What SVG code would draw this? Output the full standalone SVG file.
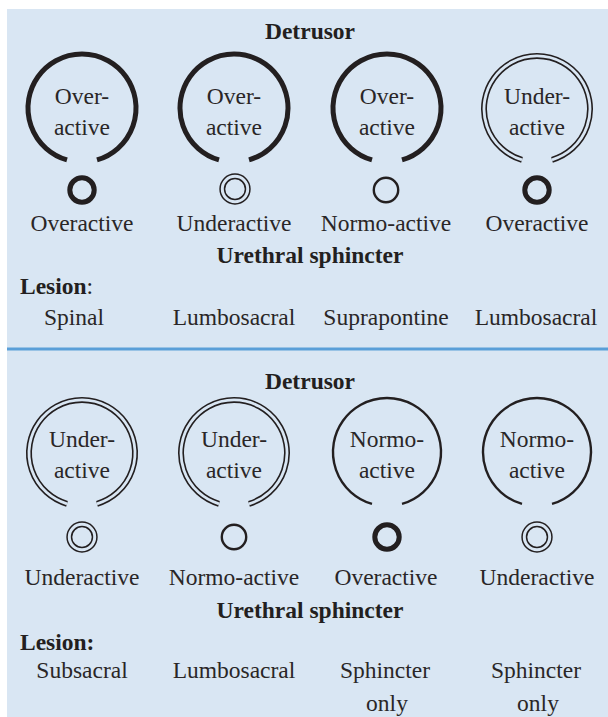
<svg xmlns="http://www.w3.org/2000/svg" xmlns:xlink="http://www.w3.org/1999/xlink" width="608" height="717" viewBox="0 0 608 717">
<style>
  text { font-family: "Liberation Serif", "DejaVu Serif", serif; font-size: 23.5px; fill: #2a2627; text-anchor: middle; }
  .b { font-weight: bold; fill: #231f20; }
  .l { text-anchor: start; }
  .thick { fill: none; stroke: #231f20; stroke-width: 5; }
  .thin { fill: none; stroke: #231f20; stroke-width: 2.4; }
  .dblo { fill: none; stroke: #231f20; stroke-width: 6; }
  .dbli { fill: none; stroke: #d9e6f3; stroke-width: 2.8; }
  .sdblo { fill: none; stroke: #231f20; stroke-width: 6; }
  .sdbli { fill: none; stroke: #d9e6f3; stroke-width: 3; }
</style>
<defs>
  <path id="arc" d="M-15,51.9 A54,54 0 1 1 15,51.9"/>
  <path id="arcd" d="M-15,50.8 A53,53 0 1 1 15,50.8"/>
  <circle id="sm" r="12.2"/>
  <circle id="smd" r="12.7"/>
</defs>
<rect x="7" y="9" width="601" height="708" fill="#d9e6f3"/>
<g id="connectors">
  <line x1="7" y1="349" x2="608" y2="349" stroke="#5a9fd8" stroke-width="3"/>
</g>
<g id="top-headers">
  <text class="b" x="310" y="39">Detrusor</text>
  <text class="b" x="310" y="263">Urethral sphincter</text>
  <text class="b l" x="20" y="294">Lesion<tspan style="font-weight:normal">:</tspan></text>
</g>
<g id="t1">
  <use xlink:href="#arc" class="thick" transform="translate(82,108)"/>
  <text x="82" y="104">Over-</text>
  <text x="82" y="135">active</text>
  <use xlink:href="#sm" class="thick" transform="translate(82,190)"/>
  <text x="82" y="231">Overactive</text>
  <text class="l" x="44" y="325">Spinal</text>
</g>
<g id="t2">
  <use xlink:href="#arc" class="thick" transform="translate(234,108)"/>
  <text x="234" y="104">Over-</text>
  <text x="234" y="135">active</text>
  <use xlink:href="#smd" class="sdblo" transform="translate(235,189)"/>
  <use xlink:href="#smd" class="sdbli" transform="translate(235,189)"/>
  <text x="234" y="231">Underactive</text>
  <text x="234" y="325">Lumbosacral</text>
</g>
<g id="t3">
  <use xlink:href="#arc" class="thick" transform="translate(387,108)"/>
  <text x="387" y="104">Over-</text>
  <text x="387" y="135">active</text>
  <use xlink:href="#sm" class="thin" transform="translate(386,190)"/>
  <text x="386" y="231">Normo-active</text>
  <text x="386" y="325">Suprapontine</text>
</g>
<g id="t4">
  <use xlink:href="#arcd" class="dblo" transform="translate(537,109)"/>
  <use xlink:href="#arcd" class="dbli" transform="translate(537,109)"/>
  <text x="537" y="104">Under-</text>
  <text x="537" y="135">active</text>
  <use xlink:href="#sm" class="thick" transform="translate(537,190)"/>
  <text x="537" y="231">Overactive</text>
  <text x="536" y="325">Lumbosacral</text>
</g>
<g id="bottom-headers">
  <text class="b" x="310" y="389">Detrusor</text>
  <text class="b" x="310" y="618">Urethral sphincter</text>
  <text class="b l" x="20" y="650">Lesion:</text>
</g>
<g id="b1">
  <use xlink:href="#arcd" class="dblo" transform="translate(82,453)"/>
  <use xlink:href="#arcd" class="dbli" transform="translate(82,453)"/>
  <text x="82" y="447">Under-</text>
  <text x="82" y="478">active</text>
  <use xlink:href="#smd" class="sdblo" transform="translate(82,537)"/>
  <use xlink:href="#smd" class="sdbli" transform="translate(82,537)"/>
  <text x="82" y="585">Underactive</text>
  <text x="82" y="678">Subsacral</text>
</g>
<g id="b2">
  <use xlink:href="#arcd" class="dblo" transform="translate(234,453)"/>
  <use xlink:href="#arcd" class="dbli" transform="translate(234,453)"/>
  <text x="234" y="447">Under-</text>
  <text x="234" y="478">active</text>
  <use xlink:href="#sm" class="thin" transform="translate(234,537)"/>
  <text x="234" y="585">Normo-active</text>
  <text x="234" y="678">Lumbosacral</text>
</g>
<g id="b3">
  <use xlink:href="#arc" class="thin" transform="translate(387,452)"/>
  <text x="387" y="447">Normo-</text>
  <text x="387" y="478">active</text>
  <use xlink:href="#sm" class="thick" transform="translate(387,537)"/>
  <text x="386" y="585">Overactive</text>
  <text x="385" y="678">Sphincter</text>
  <text x="387" y="711">only</text>
</g>
<g id="b4">
  <use xlink:href="#arc" class="thin" transform="translate(537,452)"/>
  <text x="537" y="447">Normo-</text>
  <text x="537" y="478">active</text>
  <use xlink:href="#smd" class="sdblo" transform="translate(537,537)"/>
  <use xlink:href="#smd" class="sdbli" transform="translate(537,537)"/>
  <text x="537" y="585">Underactive</text>
  <text x="536" y="678">Sphincter</text>
  <text x="538" y="711">only</text>
</g>
</svg>
